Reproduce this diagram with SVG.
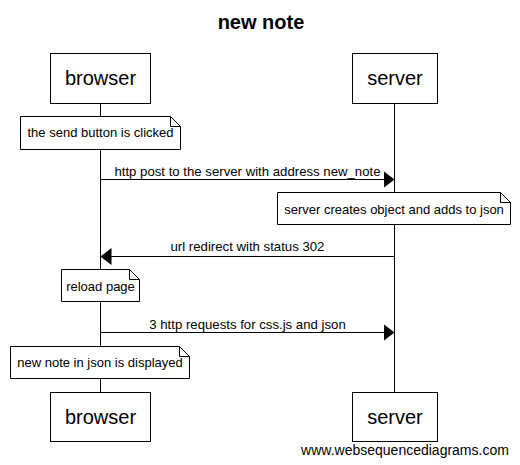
<svg xmlns="http://www.w3.org/2000/svg" width="520" height="465" viewBox="0 0 520 465">
<style>
  text { font-family: "Liberation Sans", Arial, sans-serif; fill: #000; }
  .box { fill: #fff; stroke: #000; stroke-width: 1; }
  .life { stroke: #000; stroke-width: 1; }
  .msg { stroke: #000; stroke-width: 1; fill: none; }
  .note { fill: #fff; stroke: #000; stroke-width: 1; }
  .fold { fill: none; stroke: #000; stroke-width: 1; }
  .pt { font-size: 20px; text-anchor: middle; }
  .nt { font-size: 13px; text-anchor: middle; }
  .mt { font-size: 13.2px; text-anchor: middle; }
</style>
<defs>
  <marker id="ah" markerWidth="11" markerHeight="17" refX="11" refY="8.5" orient="auto" markerUnits="userSpaceOnUse">
    <path d="M0,0 L11,8.5 L0,17 Z" fill="#000"/>
  </marker>
</defs>
<rect width="520" height="465" fill="#fff"/>
<text x="261" y="29" font-size="20" font-weight="bold" text-anchor="middle">new note</text>

<g id="lifelines">
  <line class="life" x1="100.5" y1="103" x2="100.5" y2="392"/>
  <line class="life" x1="394.5" y1="103" x2="394.5" y2="392"/>
</g>

<g id="browser">
  <rect class="box" x="50.5" y="53.5" width="100" height="50"/>
  <text class="pt" x="100.5" y="85">browser</text>
</g>
<g id="server">
  <rect class="box" x="352.5" y="53.5" width="85" height="50"/>
  <text class="pt" x="395" y="85">server</text>
</g>
<g id="browser-bottom">
  <rect class="box" x="50.5" y="392.5" width="100" height="49"/>
  <text class="pt" x="100.5" y="424">browser</text>
</g>
<g id="server-bottom">
  <rect class="box" x="352.5" y="392.5" width="85" height="49"/>
  <text class="pt" x="395" y="424">server</text>
</g>

<g id="note1">
  <path class="note" d="M20.5,116.5 H170.5 L180.5,126.5 V149.5 H20.5 Z"/>
  <path class="fold" d="M170.5,116.5 V126.5 H180.5"/>
  <text class="nt" x="100.5" y="137">the send button is clicked</text>
</g>
<g id="note2">
  <path class="note" d="M277.5,192.5 H500.5 L510.5,202.5 V224.5 H277.5 Z"/>
  <path class="fold" d="M500.5,192.5 V202.5 H510.5"/>
  <text class="nt" x="394" y="214">server creates object and adds to json</text>
</g>
<g id="note3">
  <path class="note" d="M61.5,269.5 H129.5 L139.5,279.5 V301.5 H61.5 Z"/>
  <path class="fold" d="M129.5,269.5 V279.5 H139.5"/>
  <text class="nt" x="100.5" y="291">reload page</text>
</g>
<g id="note4">
  <path class="note" d="M10.5,346.5 H179.5 L189.5,356.5 V378.5 H10.5 Z"/>
  <path class="fold" d="M179.5,346.5 V356.5 H189.5"/>
  <text class="nt" x="100" y="367">new note in json is displayed</text>
</g>

<g id="connectors">
  <line class="msg" x1="100.5" y1="179.5" x2="394.5" y2="179.5" marker-end="url(#ah)"/>
  <text class="mt" x="247.5" y="176">http post to the server with address new_note</text>
  <line class="msg" x1="394.5" y1="256.5" x2="100.5" y2="256.5" marker-end="url(#ah)"/>
  <text class="mt" x="247.5" y="251">url redirect with status 302</text>
  <line class="msg" x1="100.5" y1="332.5" x2="394.5" y2="332.5" marker-end="url(#ah)"/>
  <text class="mt" x="247.5" y="329">3 http requests for css.js and json</text>
</g>

<text x="405" y="455" font-size="14" text-anchor="middle">www.websequencediagrams.com</text>
</svg>
